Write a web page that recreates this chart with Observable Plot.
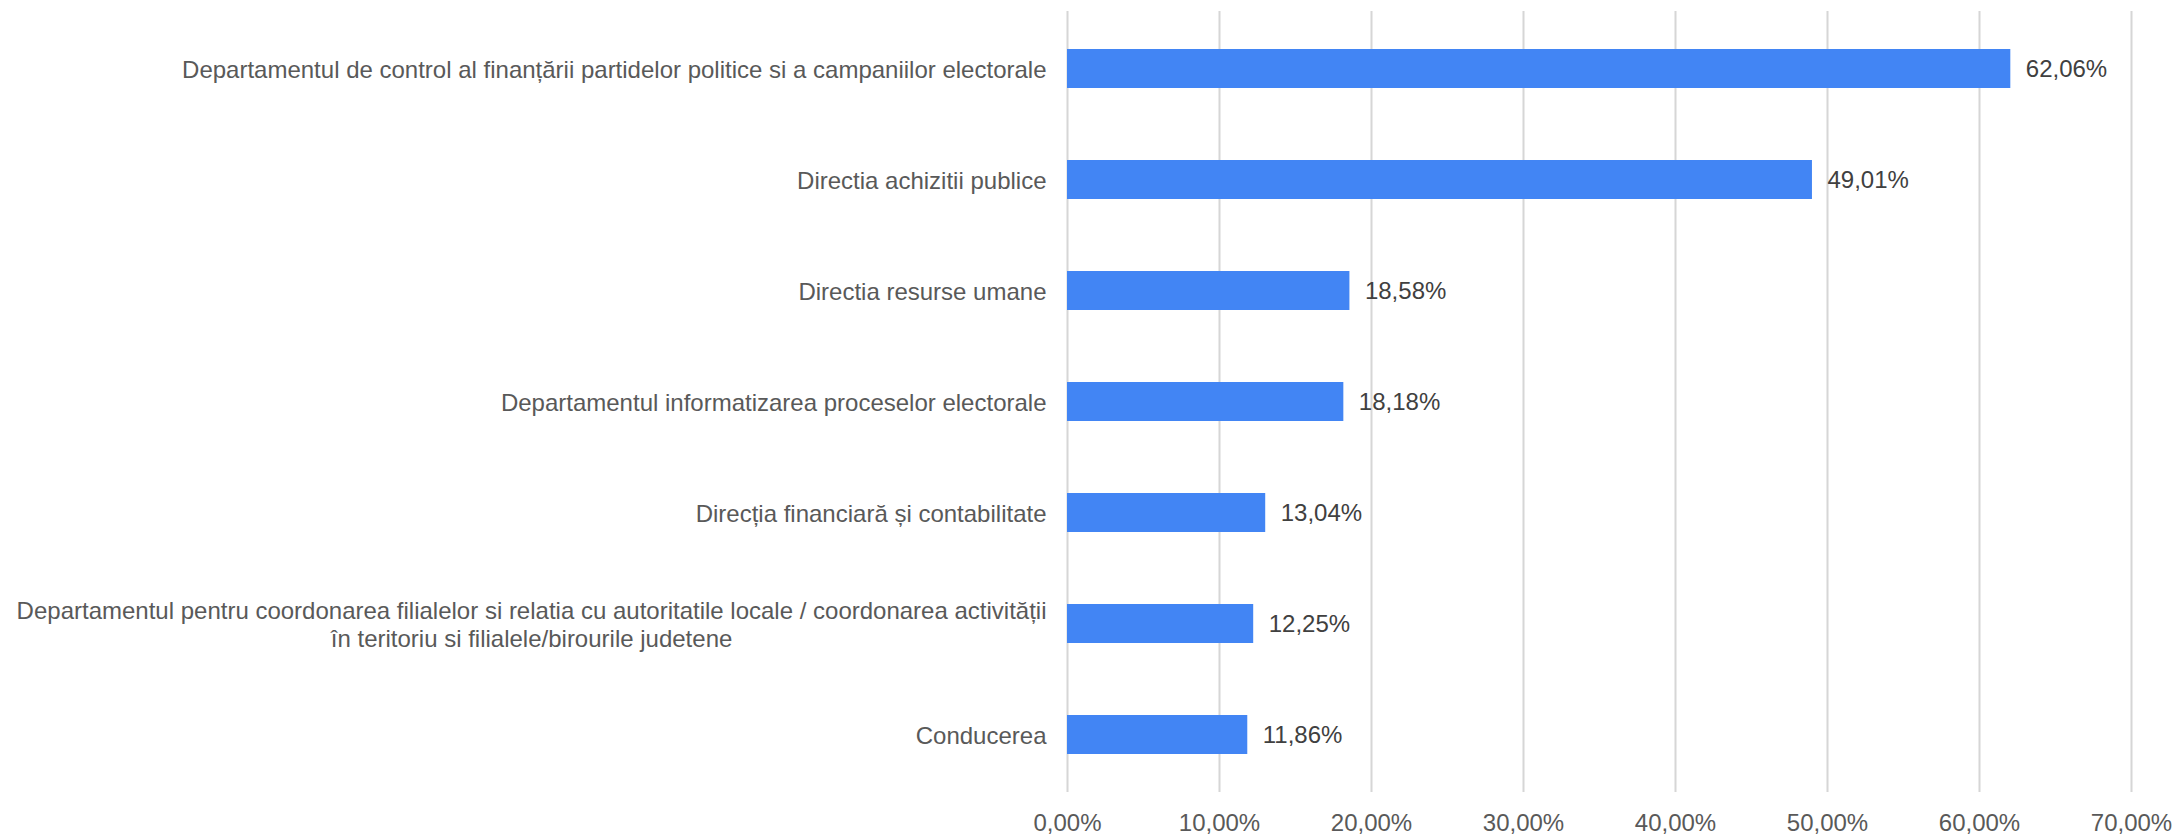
<!DOCTYPE html>
<html>
<head>
<meta charset="utf-8">
<script src="https://cdn.jsdelivr.net/npm/d3@7"></script>
<script src="https://cdn.jsdelivr.net/npm/@observablehq/plot@0.6"></script>
<style>
  html, body { margin: 0; padding: 0; background: #fff; }
  #chart svg { display: block; }
</style>
</head>
<body>
<div id="chart"></div>
<script>
const categories = [
  "Departamentul de control al finanțării partidelor politice si a campaniilor electorale",
  "Directia achizitii publice",
  "Directia resurse umane",
  "Departamentul informatizarea proceselor electorale",
  "Direcția financiară și contabilitate",
  "Departamentul pentru coordonarea filialelor si relatia cu autoritatile locale / coordonarea activității\nîn teritoriu si filialele/birourile judetene",
  "Conducerea"
];
const values = [62.06, 49.01, 18.58, 18.18, 13.04, 12.25, 11.86];
const xTicks = [0, 10, 20, 30, 40, 50, 60, 70];

const data = categories.map((c, i) => ({cat: c, value: values[i]}));
const fmtPct = v => v.toFixed(2).replace(".", ",") + "%";

const font = "'Liberation Sans', Arial, sans-serif";
const fs = 24;

const chart = Plot.plot({
  width: 2177,
  height: 835,
  marginLeft: 1067,
  marginRight: 46,
  marginTop: 11,
  marginBottom: 43,
  style: {fontFamily: font, fontSize: fs + "px", background: "#fff"},
  x: {domain: [0, 70], axis: null},
  y: {type: "band", domain: categories, paddingInner: 0.646, paddingOuter: 0.323, axis: null},
  marks: [
    Plot.gridX(xTicks, {stroke: "#d6d6d6", strokeWidth: 2, strokeOpacity: 1}),
    Plot.axisX(xTicks, {
      tickSize: 0, tickPadding: 21, tickFormat: fmtPct,
      fontSize: fs, fill: "#595959", label: null
    }),
    Plot.barX(data, {x: "value", y: "cat", fill: "#4285f4"}),
    Plot.text(data, {
      x: "value", y: "cat", text: d => fmtPct(d.value),
      dx: 15, textAnchor: "start", fill: "#404040", fontSize: fs
    }),
    Plot.text(data, {
      y: "cat", text: "cat", frameAnchor: "left", dx: -21,
      textAnchor: "end", fill: "#595959", fontSize: fs, lineHeight: 1.15
    })
  ]
});

document.getElementById("chart").append(chart);

// center the lines of multi-line category labels on each other
chart.querySelectorAll("text").forEach(t => {
  const spans = t.querySelectorAll("tspan");
  if (spans.length > 1) {
    let w = 0;
    spans.forEach(s => { w = Math.max(w, s.getComputedTextLength()); });
    t.setAttribute("text-anchor", "middle");
    spans.forEach(s => {
      s.setAttribute("text-anchor", "middle");
      s.setAttribute("x", -w / 2);
    });
  }
});
</script>
</body>
</html>
